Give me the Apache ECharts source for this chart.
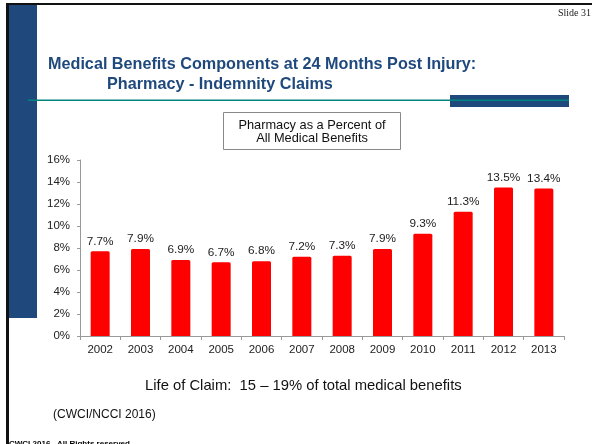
<!DOCTYPE html>
<html>
<head>
<meta charset="utf-8">
<title>Pharmacy - Indemnity Claims</title>
<script src="https://cdn.jsdelivr.net/npm/echarts@6/dist/echarts.min.js"></script>
<style>
  html, body { margin: 0; padding: 0; background: #fff; }
  #chart { width: 592px; height: 444px; }
</style>
</head>
<body>
<div id="chart"></div>
<script type="text/javascript">
// data
var years = ['2002', '2003', '2004', '2005', '2006', '2007', '2008', '2009', '2010', '2011', '2012', '2013'];
var pharmacyPct = [7.7, 7.9, 6.9, 6.7, 6.8, 7.2, 7.3, 7.9, 9.3, 11.3, 13.5, 13.4];
var yTicks = { min: 0, max: 16, step: 2 };

var navy = '#1F497D';
var font = '"Liberation Sans", Arial, sans-serif';

var myChart = echarts.init(document.getElementById('chart'), null, { renderer: 'canvas' });

var option = {
    backgroundColor: '#fff',
    animation: false,
    grid: { left: 80, right: 28, top: 160, bottom: 108, containLabel: false },
    xAxis: {
        type: 'category',
        data: years,
        axisLine: { lineStyle: { color: '#999', width: 1 } },
        axisTick: { show: true, length: 4, lineStyle: { color: '#999' } },
        axisLabel: { color: '#222', fontSize: 11.5, fontFamily: font, margin: 8 }
    },
    yAxis: {
        type: 'value',
        min: yTicks.min,
        max: yTicks.max,
        interval: yTicks.step,
        axisLine: { show: true, lineStyle: { color: '#999', width: 1 } },
        axisTick: { show: true, length: 3, lineStyle: { color: '#999' } },
        splitLine: { show: false },
        axisLabel: { color: '#222', fontSize: 11.5, fontFamily: font, margin: 10, formatter: '{value}%' }
    },
    series: [{
        type: 'bar',
        data: pharmacyPct,
        barWidth: 19,
        itemStyle: { color: '#FF0000', borderRadius: [1.5, 1.5, 0, 0] },
        label: {
            show: true,
            position: 'top',
            distance: 4,
            color: '#222',
            fontSize: 11.8,
            fontFamily: font,
            formatter: function (p) { return p.value.toFixed(1) + '%'; }
        }
    }],
    graphic: [
        // slide frame
        { type: 'rect', silent: true, shape: { x: 9, y: 5, width: 28, height: 313 }, style: { fill: navy } },
        { type: 'rect', silent: true, shape: { x: 6, y: 3, width: 586, height: 2 }, style: { fill: '#111' } },
        { type: 'rect', silent: true, shape: { x: 6, y: 3, width: 3, height: 441 }, style: { fill: '#111' } },
        { type: 'text', silent: true, style: { text: 'Slide 31', x: 591, y: 13, textAlign: 'right', textVerticalAlign: 'middle',
            fontFamily: '"Liberation Serif", "DejaVu Serif", serif', fontSize: 10, fill: '#222' } },

        // heading
        { type: 'text', silent: true, style: { text: 'Medical Benefits Components at 24 Months Post Injury:', x: 48, y: 65,
            textVerticalAlign: 'middle', fontFamily: font, fontSize: 16.2, fontWeight: 'bold', fill: navy } },
        { type: 'text', silent: true, style: { text: 'Pharmacy - Indemnity Claims', x: 107, y: 84.5,
            textVerticalAlign: 'middle', fontFamily: font, fontSize: 16.2, fontWeight: 'bold', fill: navy } },
        { type: 'rect', silent: true, shape: { x: 450, y: 95, width: 119, height: 12 }, style: { fill: navy } },
        { type: 'rect', silent: true, shape: { x: 28, y: 99.5, width: 541, height: 1.5 }, style: { fill: '#00847E' } },

        // legend-like box
        { type: 'rect', silent: true, shape: { x: 223.5, y: 112.5, width: 177, height: 37 },
            style: { fill: '#fff', stroke: '#888', lineWidth: 1 } },
        { type: 'text', silent: true, style: { text: 'Pharmacy as a Percent of', x: 312, y: 125,
            textAlign: 'center', textVerticalAlign: 'middle', fontFamily: font, fontSize: 12.8, fill: '#111' } },
        { type: 'text', silent: true, style: { text: 'All Medical Benefits', x: 312, y: 138.5,
            textAlign: 'center', textVerticalAlign: 'middle', fontFamily: font, fontSize: 12.8, fill: '#111' } },

        // notes
        { type: 'text', silent: true, style: { text: 'Life of Claim:  15 \u2013 19% of total medical benefits', x: 145, y: 385.5,
            textVerticalAlign: 'middle', fontFamily: font, fontSize: 14.8, fill: '#111' } },
        { type: 'text', silent: true, style: { text: '(CWCI/NCCI 2016)', x: 53, y: 415,
            textVerticalAlign: 'middle', fontFamily: font, fontSize: 12, fill: '#111' } },
        { type: 'text', silent: true, style: { text: 'CWCI 2016   All Rights reserved', x: 9, y: 440,
            textVerticalAlign: 'top', fontFamily: font, fontSize: 8, fontWeight: 'bold', fill: '#000' } }
    ]
};

myChart.setOption(option);
</script>
</body>
</html>
